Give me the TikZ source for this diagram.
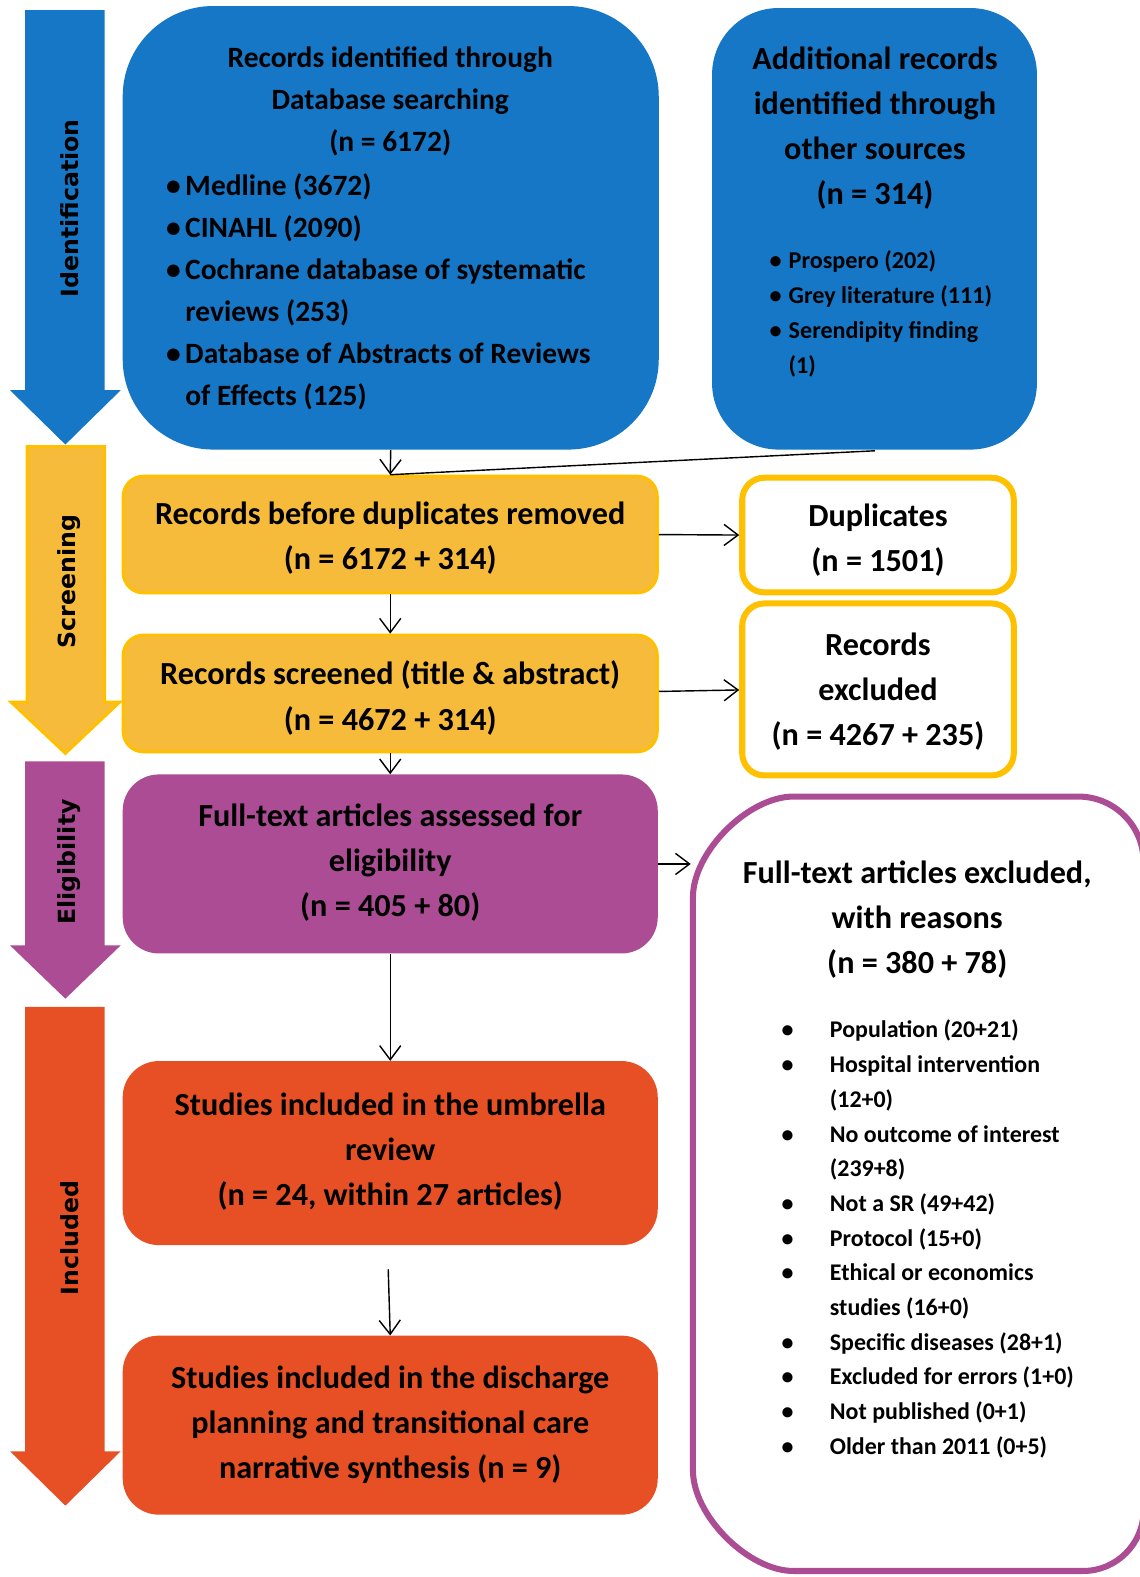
\documentclass[tikz,border=0pt]{standalone}
\usepackage{fontspec}
\setmainfont{Carlito}
\newfontfamily\phasefont{DejaVu Sans}
\usetikzlibrary{arrows.meta}
\definecolor{cblue}{RGB}{22,119,198}
\definecolor{cyel}{RGB}{246,187,58}
\definecolor{cyelb}{RGB}{255,192,0}
\definecolor{cpurp}{RGB}{171,76,148}
\definecolor{corange}{RGB}{230,80,36}
\tikzset{
  conn/.style={-{Straight Barb[length=14pt,width=21pt,line width=1.4pt]}, line width=1.4pt, black},
  phaselabel/.style={rotate=90, inner sep=0pt, font=\phasefont\bfseries\fontsize{23.5}{28}\selectfont},
  txt/.style={inner sep=0pt, align=center},
  big/.style={font=\bfseries\fontsize{32}{44.8}\selectfont},
  bluebox/.style={fill=cblue, draw=none},
  yelbox/.style={fill=cyel, draw=cyelb, line width=3pt, rounded corners=20pt},
  whitebox/.style={fill=white, draw=cyelb, line width=6pt, rounded corners=22pt},
  purpbox/.style={fill=cpurp, draw=none, rounded corners=36pt},
  orbox/.style={fill=corange, draw=none, rounded corners=36pt},
}
\begin{document}
\begin{tikzpicture}[x=1pt,y=-1pt]
\useasboundingbox (0,0) rectangle (1133,1568);

% phase arrows
\fill[cblue] (25,10) -- (104,10) -- (104,388) -- (120,388) -- (65,442) -- (10,388) -- (25,388) -- cycle;
\node[phaselabel] (lid) at (69,207) {Identification};
\filldraw[fill=cyel, draw=cyelb, line width=3pt, line join=miter] (27,444) -- (104,444) -- (104,698) -- (119,698) -- (65,749) -- (11,698) -- (27,698) -- cycle;
\node[phaselabel] (lsc) at (69,578) {Screening};
\fill[cpurp] (25,757) -- (104,757) -- (104,940) -- (120,940) -- (65,993) -- (10,940) -- (25,940) -- cycle;
\node[phaselabel] (lel) at (69,857) {Eligibility};
\fill[corange] (25,1001) -- (104,1001) -- (104,1443) -- (120,1443) -- (65,1497) -- (10,1443) -- (25,1443) -- cycle;
\node[phaselabel] (lin) at (69,1231) {Included};

% identification boxes
\node[bluebox, rounded corners=90pt, minimum width=533pt, minimum height=441pt] (db) at (388.5,226.5) {};
\node[txt, font=\bfseries\fontsize{29.3}{41.75}\selectfont] (dbt) at (388,101) {Records identified through\\Database searching\\(n = 6172)};
\node[txt, align=left, anchor=west, font=\bfseries\fontsize{29.3}{41.75}\selectfont] (dbl) at (165,290) {%
\makebox[19pt][l]{\textbullet}Medline (3672)\\
\makebox[19pt][l]{\textbullet}CINAHL (2090)\\
\makebox[19pt][l]{\textbullet}Cochrane database of systematic\\
\hspace*{19pt}reviews (253)\\
\makebox[19pt][l]{\textbullet}Database of Abstracts of Reviews\\
\hspace*{19pt}of Effects (125)};

\node[bluebox, rounded corners=66pt, minimum width=323pt, minimum height=439pt] (os) at (869.5,227.5) {};
\node[txt, big] (ost) at (870,127) {Additional records\\identified through\\other sources\\(n = 314)};
\node[txt, align=left, anchor=west, font=\bfseries\fontsize{24}{34.7}\selectfont] (osl) at (765,312) {%
\makebox[19pt][l]{\textbullet}Prospero (202)\\
\makebox[19pt][l]{\textbullet}Grey literature (111)\\
\makebox[19pt][l]{\textbullet}Serendipity finding\\
\hspace*{19pt}(1)};

% screening
\node[yelbox, minimum width=531pt, minimum height=116pt] (bd) at (388,531.5) {};
\node[txt, big] (bdt) at (388,535) {Records before duplicates removed\\(n = 6172 + 314)};
\node[yelbox, minimum width=531pt, minimum height=116pt] (sc) at (388,689.5) {};
\node[txt, big] (sct) at (388,694) {Records screened (title \& abstract)\\(n = 4672 + 314)};

\node[whitebox, minimum width=270pt, minimum height=114pt] (dup) at (873,532) {};
\node[txt, big] (dupt) at (873,537) {Duplicates\\(n = 1501)};
\node[whitebox, minimum width=270pt, minimum height=171pt] (ex) at (873,685.5) {};
\node[txt, big] (ext) at (873,688) {Records\\excluded\\(n = 4267 + 235)};

% eligibility
\node[purpbox, minimum width=532pt, minimum height=178pt] (el) at (388,859) {};
\node[txt, big] (elt) at (388,858) {Full-text articles assessed for\\eligibility\\(n = 405 + 80)};

% excluded-with-reasons box (runs past the right edge)
\node[draw=none, inner sep=0pt, minimum width=448pt, minimum height=770pt] (fx) at (913,1177) {};
\filldraw[fill=white, draw=cpurp, line width=6pt]
  (689,892) .. controls (689,847) and (744,792) .. (789,792)
  -- (1072,792) .. controls (1108,792) and (1137,821) .. (1137,857)
  -- (1137,1502) .. controls (1137,1535) and (1110,1562) .. (1077,1562)
  -- (789,1562) .. controls (744,1562) and (689,1507) .. (689,1462)
  -- cycle;
\node[txt, big] (fxt) at (912,914) {Full-text articles excluded,\\with reasons\\(n = 380 + 78)};
\node[txt, align=left, anchor=west, font=\bfseries\fontsize{23.8}{34.5}\selectfont] (fxl) at (777,1232) {%
\makebox[48pt][l]{\textbullet}Population (20+21)\\
\makebox[48pt][l]{\textbullet}Hospital intervention\\
\hspace*{48pt}(12+0)\\
\makebox[48pt][l]{\textbullet}No outcome of interest\\
\hspace*{48pt}(239+8)\\
\makebox[48pt][l]{\textbullet}Not a SR (49+42)\\
\makebox[48pt][l]{\textbullet}Protocol (15+0)\\
\makebox[48pt][l]{\textbullet}Ethical or economics\\
\hspace*{48pt}studies (16+0)\\
\makebox[48pt][l]{\textbullet}Specific diseases (28+1)\\
\makebox[48pt][l]{\textbullet}Excluded for errors (1+0)\\
\makebox[48pt][l]{\textbullet}Not published (0+1)\\
\makebox[48pt][l]{\textbullet}Older than 2011 (0+5)};

% included
\node[orbox, minimum width=532pt, minimum height=183pt] (um) at (388,1146.5) {};
\node[txt, big] (umt) at (388,1145) {Studies included in the umbrella\\review\\(n = 24, within 27 articles)};
\node[orbox, minimum width=532pt, minimum height=178pt] (ns) at (388,1417) {};
\node[txt, big] (nst) at (388,1417) {Studies included in the discharge\\planning and transitional care\\narrative synthesis (n = 9)};

% connectors
\coordinate (merge) at (bd.north);
\draw[conn] (db.south) -- (merge);
\draw[line width=1.4pt] ([xshift=0.5pt,yshift=-1pt]os.south) -- (merge);
\draw[conn] (bd.south) -- (sc.north);
\draw[conn] (sc.south) -- (el.north);
\draw[conn] (bd.east) -- (dup.west);
\draw[conn] ([yshift=2pt]sc.east) -- ([yshift=-0.5pt]ex.west);
\draw[conn] (el.east) -- ([xshift=-2pt]el.east -| fx.west);
\draw[conn] (el.south) -- (um.north);
\coordinate (gap) at (386,1262);
\draw[conn] (gap) -- (ns.north);
\end{tikzpicture}
\end{document}
